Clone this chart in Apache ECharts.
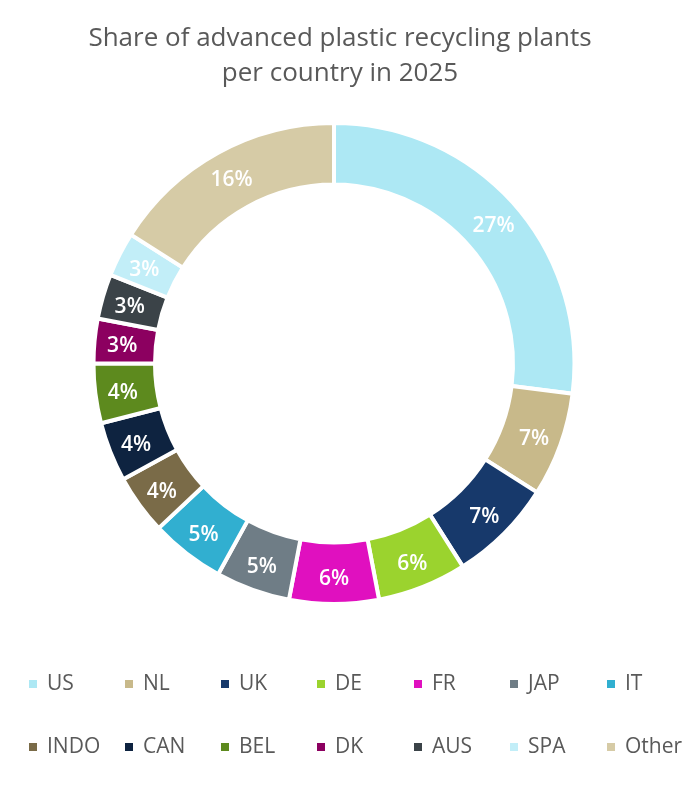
<html>
<head>
<meta charset="utf-8">
<title>Advanced plastic recycling plants</title>
<style type="text/css">
body{
	margin:0;
	background-color:white;
}
#chart{
	width:700px;
	height:786px;
}
</style>
<script src="https://cdn.jsdelivr.net/npm/echarts@6/dist/echarts.min.js"></script>
</head>
<body>
	<div id="chart"></div>
	<script type="text/javascript">
	// data (percent of plants)
	var countries = ['US','NL','UK','DE','FR','JAP','IT','INDO','CAN','BEL','DK','AUS','SPA','Other'];
	var shares = [27, 7, 7, 6, 6, 5, 5, 4, 4, 4, 3, 3, 3, 16];
	var colors = ['#ade8f4','#c8b98a','#17396b','#9bd32e','#e010bf','#6f7d86','#31afd0',
		'#7a6b48','#0e2340','#5d8a1e','#8c0060','#3b4348','#c2eef8','#d6cba6'];

	var pieData = [];
	for (var i = 0; i < countries.length; i++) {
		pieData.push({name: countries[i], value: shares[i], itemStyle: {color: colors[i]}});
	}

	// legend laid out in 7 columns of 2 rows, like the original
	var colLeft = [27, 123, 219, 315, 412, 508, 605];
	var legends = [];
	for (var c = 0; c < 7; c++) {
		legends.push({
			data: [countries[c], countries[c + 7]],
			top: 672,
			left: colLeft[c],
			orient: 'vertical',
			icon: 'rect',
			itemWidth: 10,
			itemHeight: 10,
			itemGap: 39,
			padding: 0,
			selectedMode: false,
			textStyle: {
				fontFamily: 'Open Sans',
				fontSize: 21,
				lineHeight: 24,
				color: '#595959',
				padding: [0, 0, 0, 4]
			}
		});
	}

	var myChart = echarts.init(document.getElementById('chart'));
	var option = {
		animation: false,
		title: {
			text: 'Share of advanced plastic recycling plants\nper country in 2025',
			left: 335,
			textAlign: 'center',
			top: 16,
			textStyle: {
				fontFamily: 'Open Sans',
				fontWeight: 'normal',
				fontSize: 26,
				lineHeight: 35,
				color: '#595959'
			}
		},
		legend: legends,
		series: [{
			type: 'pie',
			center: [334, 363.5],
			radius: [179, 240.5],
			startAngle: 90,
			clockwise: true,
			avoidLabelOverlap: false,
			itemStyle: {
				borderColor: '#ffffff',
				borderWidth: 4
			},
			label: {
				show: true,
				position: 'inside',
				formatter: '{c}%',
				offset: [0, 3],
				color: '#ffffff',
				fontFamily: 'Open Sans',
				fontWeight: 600,
				fontSize: 21
			},
			labelLine: {show: false},
			emphasis: {disabled: true},
			data: pieData
		}]
	};
	myChart.setOption(option);
	</script>
</body>
</html>
